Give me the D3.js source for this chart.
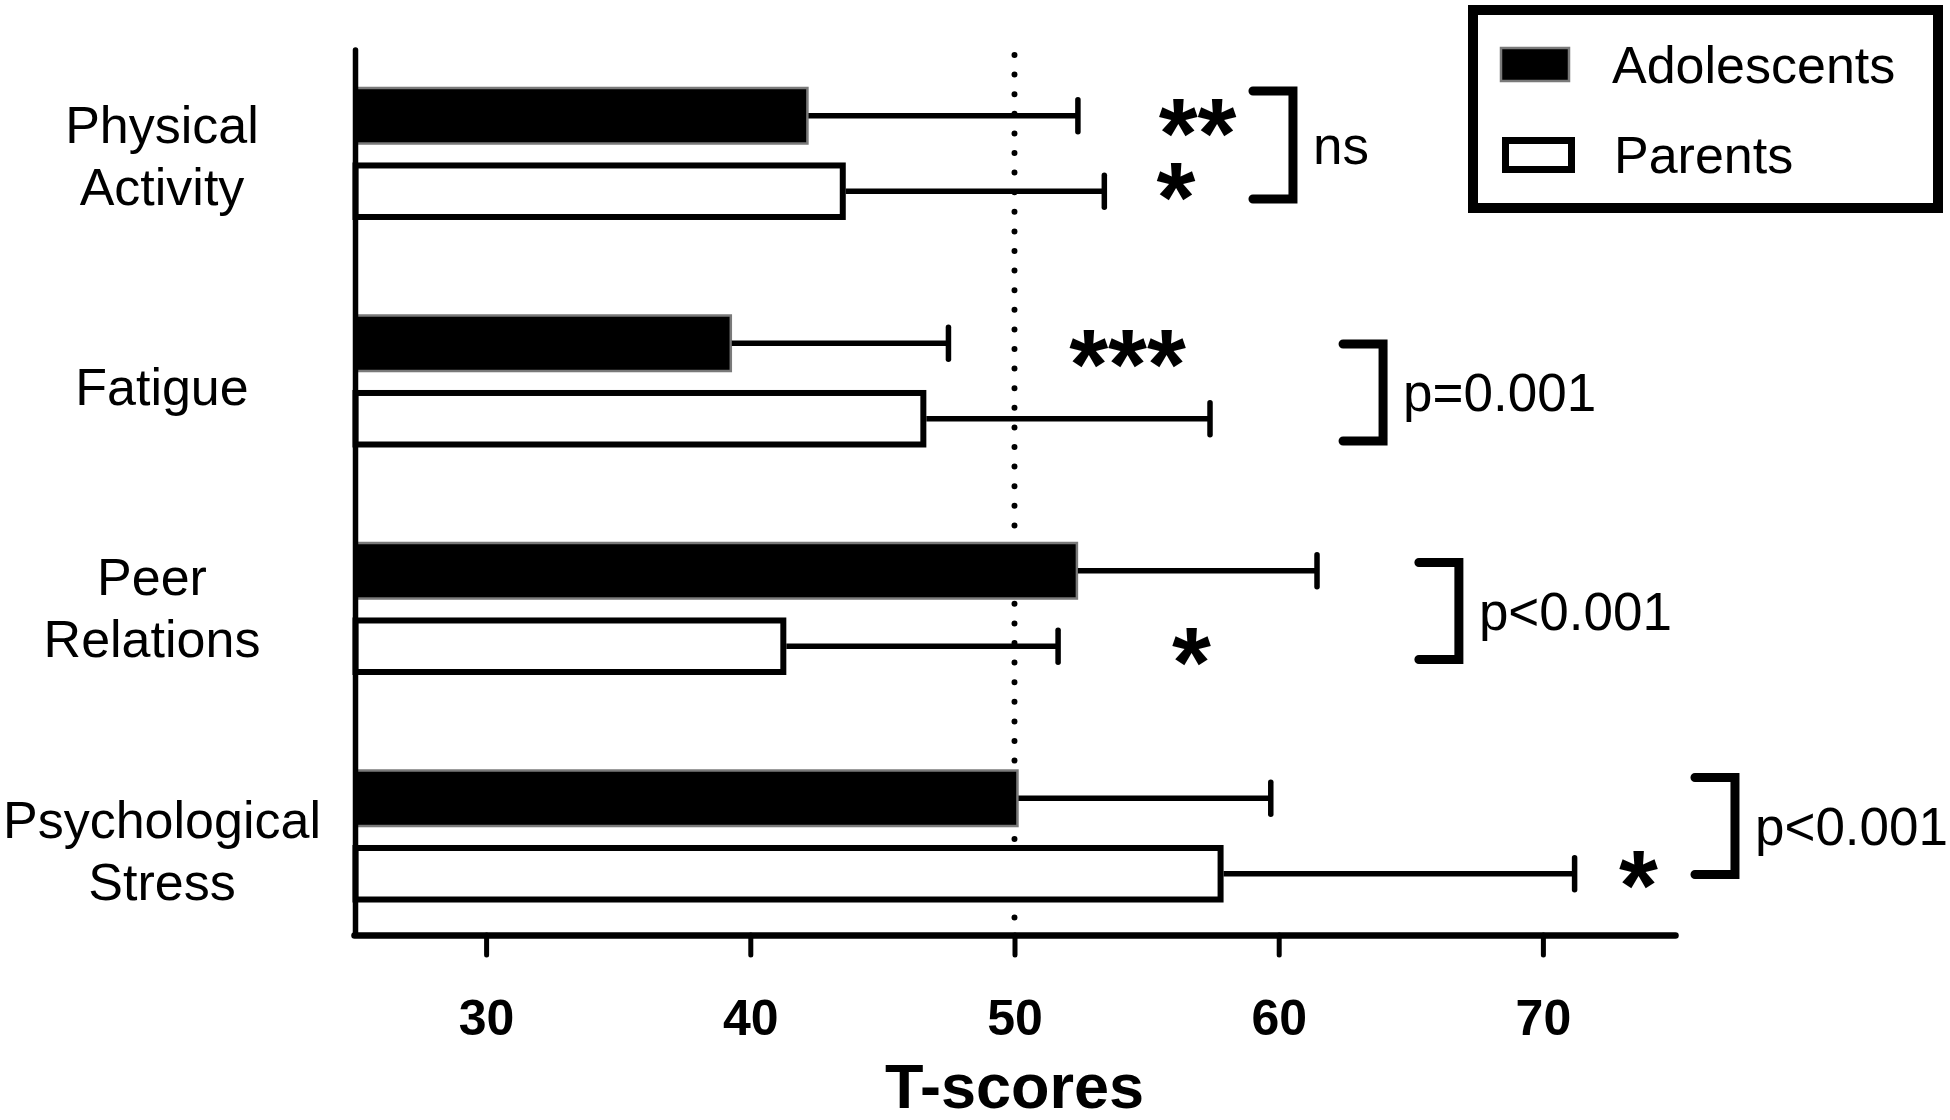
<!DOCTYPE html>
<html>
<head>
<meta charset="utf-8">
<script src="https://cdn.jsdelivr.net/npm/d3@7"></script>
<style>
  html, body { margin: 0; padding: 0; background: #fff; }
  svg { display: block; }
  text { font-family: "Liberation Sans", Arial, Helvetica, sans-serif; fill: #000; }
</style>
</head>
<body>
<svg id="chart" width="1950" height="1120"></svg>
<script>
// ---------------- DATA ----------------
const categories = ["Physical Activity", "Fatigue", "Peer Relations", "Psychological Stress"];
const categoryLines = [["Physical", "Activity"], ["Fatigue"], ["Peer", "Relations"], ["Psychological", "Stress"]];
const series = ["Adolescents", "Parents"];
const adolescentMeans = [42.2, 39.3, 52.4, 50.15];
const adolescentSD    = [10.2, 8.2, 9.05, 9.55];
const parentMeans     = [43.5, 46.55, 41.25, 57.8];
const parentSD        = [9.9, 10.85, 10.4, 13.4];
const xTicks = [30, 40, 50, 60, 70];
const xDomain = [25, 75];
const referenceValue = 50;
const xTitle = "T-scores";
// significance vs. reference (category, series, label, x-value of label centre)
const starCategories = ["Physical Activity", "Physical Activity", "Fatigue", "Peer Relations", "Psychological Stress"];
const starSeries     = ["Adolescents", "Parents", "Adolescents", "Parents", "Parents"];
const starLabels     = ["**", "*", "***", "*", "*"];
const starValues     = [56.93, 56.11, 54.28, 56.70, 73.62];
// between-group comparison brackets (x-value of bracket spine)
const bracketLabels  = ["ns", "p=0.001", "p<0.001", "p<0.001"];
const bracketValues  = [60.54, 63.95, 66.82, 77.27];

// ---------------- LAYOUT ----------------
const svg = d3.select("#chart");
const labelShift = [2, 6, -1, 14];           // px vertical nudges of category labels
const labelXShift = [0, 0, -10, 0];          // px horizontal nudges of category labels
const bracketShift = [-8.5, 11.5, 2.5, -10]; // px nudges of bracket centres
const starShift = [3.5, -8, 6.5, 2, -2.5];   // px nudges of star centres

const x = d3.scaleLinear().domain(xDomain).range([354, 1675]);
const yGroup = d3.scaleBand().domain(categories).range([50, 939.5])
  .paddingInner(0.4154).paddingOuter(0.1626);
const ySub = d3.scaleBand().domain(series).range([0, yGroup.bandwidth()]).paddingInner(0.238);

const axisY = 935;
const x0 = x(xDomain[0]) + 2;

const rows = categories.map((c, i) => ({
  cat: c, lines: categoryLines[i],
  vals: [
    { s: series[0], mean: adolescentMeans[i], sd: adolescentSD[i] },
    { s: series[1], mean: parentMeans[i], sd: parentSD[i] }
  ]
}));

const barCenter = (cat, s) => yGroup(cat) + ySub(s) + ySub.bandwidth() / 2;

// reference dotted line (behind bars)
svg.append("line")
  .attr("x1", x(referenceValue)).attr("x2", x(referenceValue))
  .attr("y1", 55).attr("y2", axisY - 5)
  .attr("stroke", "#000").attr("stroke-width", 6)
  .attr("stroke-linecap", "round")
  .attr("stroke-dasharray", "0 19.6");

// bars
const g = svg.append("g");
rows.forEach(r => {
  r.vals.forEach(v => {
    const y0 = yGroup(r.cat) + ySub(v.s);
    const h = ySub.bandwidth();
    const barG = g.append("g");
    if (v.s === "Adolescents") {
      barG.append("rect")
        .attr("x", x0).attr("y", y0 + 1)
        .attr("width", x(v.mean) - x0 - 1).attr("height", h - 2)
        .attr("fill", "#000").attr("stroke", "#7a7a7a").attr("stroke-width", 2.5);
    } else {
      barG.append("rect")
        .attr("x", x0 - 0.5).attr("y", y0 + 3)
        .attr("width", x(v.mean) - x0 + 0.5).attr("height", h - 6)
        .attr("fill", "#fff").attr("stroke", "#000").attr("stroke-width", 6);
    }
    const cy = y0 + h / 2;
    const xs = v.s === "Parents" ? x(v.mean) + 3 : x(v.mean);
    barG.append("line")
      .attr("x1", xs).attr("x2", x(v.mean + v.sd))
      .attr("y1", cy).attr("y2", cy)
      .attr("stroke", "#000").attr("stroke-width", 5.5);
    barG.append("line")
      .attr("x1", x(v.mean + v.sd)).attr("x2", x(v.mean + v.sd))
      .attr("y1", cy - 16).attr("y2", cy + 16)
      .attr("stroke", "#000").attr("stroke-width", 5.5)
      .attr("stroke-linecap", "round");
  });
});

// y axis line
svg.append("line")
  .attr("x1", 355.5).attr("x2", 355.5)
  .attr("y1", 50).attr("y2", axisY)
  .attr("stroke", "#000").attr("stroke-width", 5.5)
  .attr("stroke-linecap", "round");

// x axis
const xAxis = d3.axisBottom(x).tickValues(xTicks).tickSize(20).tickSizeOuter(0).tickPadding(44);
const xa = svg.append("g").attr("transform", `translate(0,${axisY})`).call(xAxis);
xa.select(".domain").attr("stroke", "#000").attr("stroke-width", 6.5).attr("stroke-linecap", "round");
xa.selectAll(".tick line").attr("stroke", "#000").attr("stroke-width", 5).attr("stroke-linecap", "round");
xa.selectAll(".tick text")
  .attr("font-family", "'Liberation Sans', Arial, sans-serif")
  .attr("font-size", 50).attr("font-weight", "bold").attr("fill", "#000");

// x title
svg.append("text")
  .attr("x", (x.range()[0] + x.range()[1]) / 2).attr("y", 1108)
  .attr("text-anchor", "middle")
  .attr("font-size", 63).attr("font-weight", "bold")
  .text(xTitle);

// category labels
rows.forEach((r, i) => {
  const c = yGroup(r.cat) + yGroup.bandwidth() / 2 + labelShift[i];
  const lineH = 62, cap = 37;
  const n = r.lines.length;
  const blockH = cap + (n - 1) * lineH;
  const firstBase = c - blockH / 2 + cap;
  const t = svg.append("text").attr("text-anchor", "middle").attr("font-size", 52);
  r.lines.forEach((ln, k) => {
    t.append("tspan").attr("x", 162 + labelXShift[i]).attr("y", firstBase + k * lineH).text(ln);
  });
});

// stars
starLabels.forEach((lab, i) => {
  const cy = barCenter(starCategories[i], starSeries[i]) + starShift[i];
  svg.append("text")
    .attr("x", x(starValues[i])).attr("y", cy + 49)
    .attr("text-anchor", "middle")
    .attr("font-size", 100).attr("font-weight", "bold")
    .text(lab);
});

// brackets
bracketLabels.forEach((lab, i) => {
  const c = yGroup(categories[i]) + yGroup.bandwidth() / 2 + bracketShift[i];
  const half = i === 0 ? 54 : 48.5;
  const bx = x(bracketValues[i]);
  svg.append("path")
    .attr("d", `M${bx - 40},${c - half}H${bx}V${c + half}H${bx - 40}`)
    .attr("fill", "none").attr("stroke", "#000").attr("stroke-width", 9)
    .attr("stroke-linecap", "round").attr("stroke-linejoin", "miter");
  svg.append("text")
    .attr("x", bx + 20).attr("y", c + 19)
    .attr("font-size", 53)
    .text(lab);
});

// legend
const lg = svg.append("g");
lg.append("rect").attr("x", 1473).attr("y", 10).attr("width", 465).attr("height", 198)
  .attr("fill", "#fff").attr("stroke", "#000").attr("stroke-width", 10);
lg.append("rect").attr("x", 1501).attr("y", 48).attr("width", 68).attr("height", 33)
  .attr("fill", "#000").attr("stroke", "#7a7a7a").attr("stroke-width", 2.5);
lg.append("rect").attr("x", 1505.5).attr("y", 140.5).attr("width", 66).attr("height", 29)
  .attr("fill", "#fff").attr("stroke", "#000").attr("stroke-width", 7);
lg.append("text").attr("x", 1612).attr("y", 83).attr("font-size", 52).text(series[0]);
lg.append("text").attr("x", 1614).attr("y", 173).attr("font-size", 52).text(series[1]);
</script>
</body>
</html>
